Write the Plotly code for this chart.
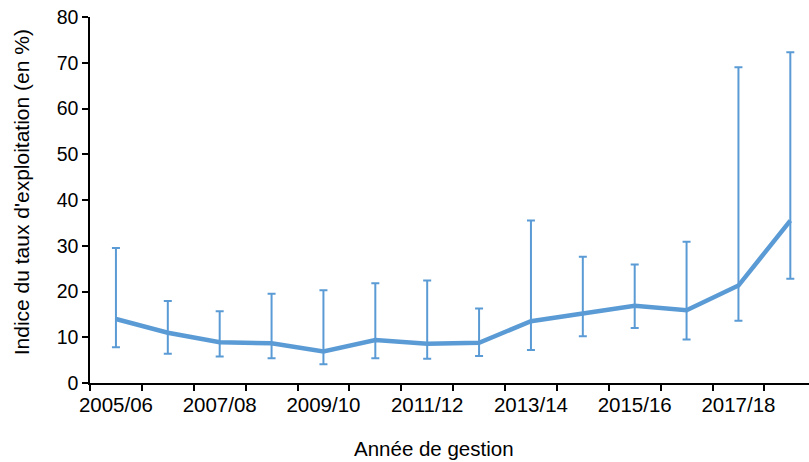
import plotly.graph_objects as go

# Management years (category axis)
years = ["2005/06", "2006/07", "2007/08", "2008/09", "2009/10", "2010/11", "2011/12",
         "2012/13", "2013/14", "2014/15", "2015/16", "2016/17", "2017/18", "2018/19"]

# Exploitation-rate index (%) with lower / upper bounds of the confidence interval
index_value = [14.0, 11.0, 8.9, 8.7, 6.9, 9.4, 8.6, 8.8, 13.5, 15.3, 16.9, 15.9, 21.3, 35.5]
upper_bound = [29.5, 17.9, 15.7, 19.5, 20.3, 21.8, 22.4, 16.3, 35.5, 27.6, 25.9, 30.9, 69.0, 72.3]
lower_bound = [7.8, 6.4, 5.8, 5.4, 4.1, 5.4, 5.3, 5.9, 7.2, 10.2, 12.0, 9.5, 13.6, 22.8]

# Only every other year gets a label
tick_text = [y if i % 2 == 0 else "" for i, y in enumerate(years)]

BLUE = "#5B9BD5"
FONT = "Liberation Sans, Arial, sans-serif"

err_plus = [u - v for u, v in zip(upper_bound, index_value)]
err_minus = [v - l for v, l in zip(index_value, lower_bound)]

fig = go.Figure()
fig.add_trace(go.Scatter(
    x=years,
    y=index_value,
    mode="lines",
    line=dict(color=BLUE, width=4.5),
    error_y=dict(type="data", symmetric=False, array=err_plus, arrayminus=err_minus,
                 color=BLUE, thickness=2, width=4),
    showlegend=False,
))

fig.update_layout(
    width=809, height=462,
    margin=dict(l=89.5, r=0, t=17, b=78.5),
    paper_bgcolor="white", plot_bgcolor="white",
    font=dict(family=FONT, size=20, color="#000000"),
    xaxis=dict(
        type="category",
        range=[-0.5, 13.36],
        tickmode="array", tickvals=years, ticktext=tick_text,
        tickson="boundaries", tickangle=0, ticklabelstandoff=3,
        ticks="outside", ticklen=6, tickwidth=1.5, tickcolor="#000000",
        showline=True, linecolor="#000000", linewidth=1.5,
        showgrid=False, zeroline=False,
        tickfont=dict(size=20.5),
    ),
    yaxis=dict(
        range=[0, 80], dtick=10,
        ticks="outside", ticklen=6, tickwidth=1.5, tickcolor="#000000",
        showline=True, linecolor="#000000", linewidth=1.5,
        showgrid=False, zeroline=False,
        tickfont=dict(size=19.5),
    ),
    annotations=[
        dict(text="Année de gestion", xref="paper", yref="paper",
             x=(434 - 89.5) / 719.5, y=(383.5 - 449) / 366.5,
             xanchor="center", yanchor="middle", showarrow=False,
             font=dict(size=20.5)),
        dict(text="Indice du taux d'exploitation (en %)", xref="paper", yref="paper",
             x=(21 - 89.5) / 719.5, y=(383.5 - 193) / 366.5,
             xanchor="center", yanchor="middle", textangle=-90, showarrow=False,
             font=dict(size=21)),
    ],
)

fig.write_html("out.html")
